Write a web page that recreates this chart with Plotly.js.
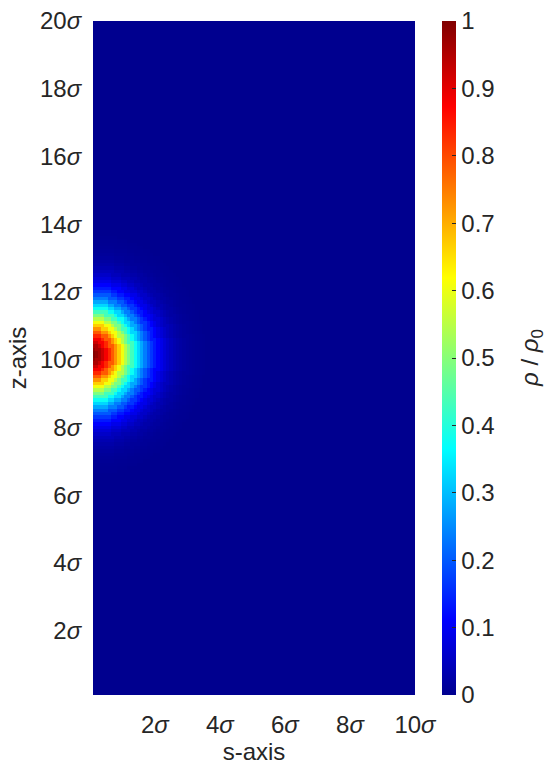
<!DOCTYPE html>
<html>
<head>
<meta charset="utf-8">
<script src="https://cdn.plot.ly/plotly-3.0.1.min.js"></script>
<style>html,body{margin:0;padding:0;background:#fff;}#chart{width:550px;height:776px;}</style>
</head>
<body>
<div id="chart"></div>
<script>
// grid of the field (in units of sigma)
const sValues = Array.from({length: 100}, (_, i) => +((i + 1) * 0.1).toFixed(1));
const zValues = Array.from({length: 200}, (_, j) => +((j + 1) * 0.1).toFixed(1));
// peak position
const peakS = 0;
const peakZ = 10.15;
// radial profile rho/rho0 at r = 0, 0.1, 0.2, ... sigma
const profileStep = 0.1;
const rhoProfile = [1.000, 0.995, 0.980, 0.956, 0.923, 0.882, 0.835, 0.783, 0.726, 0.667,
                    0.607, 0.546, 0.487, 0.430, 0.375, 0.325, 0.278, 0.236, 0.198, 0.164,
                    0.135, 0.110, 0.089, 0.071, 0.056, 0.044, 0.034, 0.026, 0.020, 0.015,
                    0.011, 0.008, 0.006, 0.004, 0.003, 0.002];
// tick labels
const xTickVals = [2, 4, 6, 8, 10];
const xTickText = ['2<i>σ</i>', '4<i>σ</i>', '6<i>σ</i>', '8<i>σ</i>', '10<i>σ</i>'];
const yTickVals = [2, 4, 6, 8, 10, 12, 14, 16, 18, 20];
const yTickText = ['2<i>σ</i>', '4<i>σ</i>', '6<i>σ</i>', '8<i>σ</i>', '10<i>σ</i>', '12<i>σ</i>', '14<i>σ</i>', '16<i>σ</i>', '18<i>σ</i>', '20<i>σ</i>'];
// MATLAB-like jet colour map
const jetScale = [[0, 'rgb(0,0,143)'], [0.111, 'rgb(0,0,255)'], [0.365, 'rgb(0,255,255)'],
                  [0.619, 'rgb(255,255,0)'], [0.873, 'rgb(255,0,0)'], [1, 'rgb(128,0,0)']];

const zGrid = zValues.map(z => sValues.map(s => {
  const r = Math.sqrt((s - peakS) ** 2 + (z - peakZ) ** 2);
  const k = Math.round(r / profileStep);
  return k < rhoProfile.length ? rhoProfile[k] : 0;
}));

const font = {family: 'Liberation Sans, Arial, sans-serif', size: 24, color: '#262626'};

const trace = {
  type: 'heatmap', x: sValues, y: zValues, z: zGrid,
  colorscale: jetScale, zmin: 0, zmax: 1, zsmooth: false, hoverinfo: 'skip',
  colorbar: {
    thickness: 14, thicknessmode: 'pixels', len: 1, lenmode: 'fraction',
    x: 1.084, xanchor: 'left', y: 0.5, yanchor: 'middle', xpad: 0, ypad: 0,
    outlinewidth: 0, tick0: 0, dtick: 0.1, ticks: 'inside', ticklen: 4,
    tickcolor: '#262626', tickfont: font
  }
};

const layout = {
  width: 550, height: 776,
  margin: {l: 93, r: 135, t: 21, b: 81},
  paper_bgcolor: '#fff', plot_bgcolor: '#fff',
  font: font,
  xaxis: {range: [0.1, 10], tickvals: xTickVals, ticktext: xTickText, showgrid: false, zeroline: false,
          showline: false, ticks: 'outside', ticklen: 8, tickcolor: 'rgba(0,0,0,0)', tickfont: font,
          title: {text: 's-axis', font: font, standoff: 6}},
  yaxis: {range: [0.1, 20], tickvals: yTickVals, ticktext: yTickText, showgrid: false, zeroline: false,
          showline: false, ticks: 'outside', ticklen: 6, tickcolor: 'rgba(0,0,0,0)', tickfont: font,
          title: {text: 'z-axis', font: font, standoff: 6}},
  annotations: [{
    text: '<i>ρ</i> / <i>ρ</i><sub>0</sub>', textangle: -90, showarrow: false,
    xref: 'paper', yref: 'paper', x: (531 - 93) / 322, y: 0.5, xanchor: 'center', yanchor: 'middle',
    font: font
  }]
};

Plotly.newPlot('chart', [trace], layout, {displayModeBar: false, staticPlot: true});
</script>
</body>
</html>
